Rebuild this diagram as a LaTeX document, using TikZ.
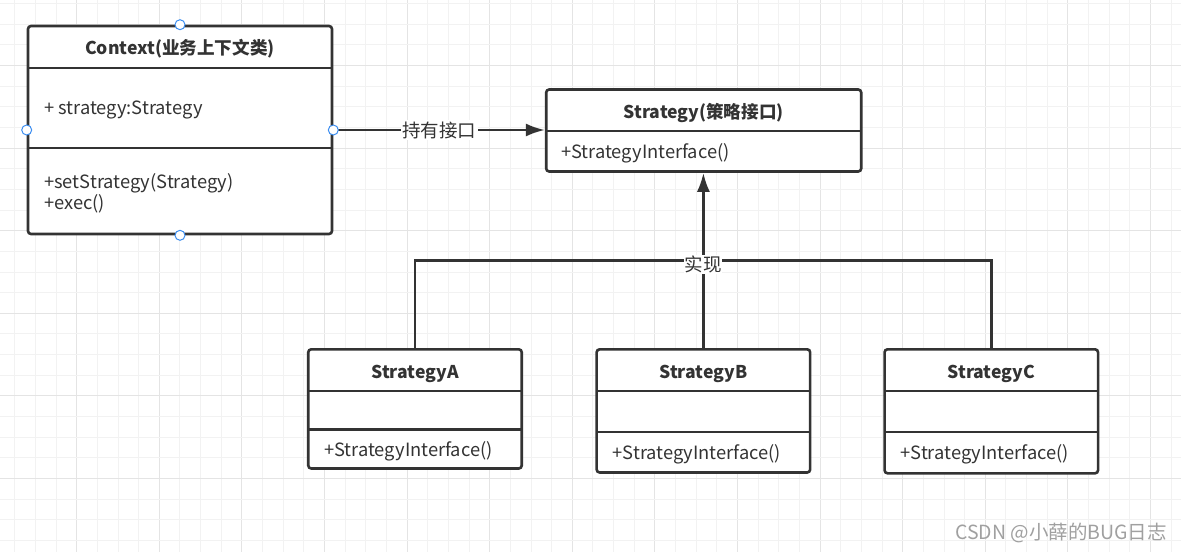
\documentclass[tikz,border=0pt]{standalone}
\usepackage{fontspec}
\setmainfont{Noto Sans CJK SC}
\usepackage{xcolor}
\usetikzlibrary{arrows.meta}
\definecolor{linegray}{HTML}{333333}
\definecolor{textgray}{HTML}{333333}
\definecolor{handleblue}{HTML}{3D8EF0}
\definecolor{gridminor}{HTML}{F2F2F2}
\definecolor{gridmajor}{HTML}{E4E4E4}
\definecolor{markgray}{HTML}{A0A0A0}
\tikzset{umlbox/.style={draw=linegray,line width=2.6pt,rounded corners=3pt,fill=white,inner sep=0pt},
         title/.style={font=\fontsize{17.6}{21}\selectfont\bfseries,text=textgray,inner sep=0pt},
         member/.style={font=\fontsize{18.3}{21}\selectfont,text=textgray,anchor=west,align=left,inner sep=0pt},
         divider/.style={draw=linegray,line width=2.6pt},
         conn/.style={draw=linegray,line width=2.6pt},
         solidhead/.style={-{Latex[length=19pt,width=13pt]}},
         lbl/.style={fill=white,text=textgray,font=\fontsize{18.5}{21}\selectfont,inner sep=1.5pt},
         handle/.style={circle,draw=handleblue,fill=white,line width=1pt,minimum size=10pt,inner sep=0pt},
         }

\begin{document}
\begin{tikzpicture}[x=1pt,y=-1pt]
\useasboundingbox (0,0) rectangle (1181,552);
\fill[white] (0,0) rectangle (1181,552);
% grid
\foreach \i in {0,...,56}
  \pgfmathparse{mod(\i,4)==3 ? "gridmajor" : "gridminor"}
  \draw[\pgfmathresult,line width=1pt] ({14.75+\i*20.65},0) -- ++(0,552);
\foreach \i in {0,...,26}
  \pgfmathparse{mod(\i,4)==3 ? "gridmajor" : "gridminor"}
  \draw[\pgfmathresult,line width=1pt] (0,{3.55+\i*20.65}) -- ++(1181,0);

% context class
\node[umlbox,minimum width=304pt,minimum height=208pt] (ctx) at (180,130) {};
\draw[divider] (28,68) -- (332,68);
\draw[divider] (28,148) -- (332,148);
\node[title] (ctxname) at (180,48.5) {Context(业务上下文类)};
\node[member] (ctxattr) at (44,110) {+ strategy:Strategy};
\node[member] (ctxops) at (44,193) {+setStrategy(Strategy)\\+exec()};

% strategy interface
\node[umlbox,minimum width=315pt,minimum height=82pt] (strat) at (703.7,130.5) {};
\draw[divider] (546,131) -- (861.5,131);
\node[title] (stratname) at (703.7,112.5) {Strategy(策略接口)};
\node[member] (stratop) at (561,153.5) {+StrategyInterface()};

% concrete strategies
\foreach \n/\cx/\bot/\dv in {A/415/468.5/429.5,B/703.4/472.5/432,C/991.3/473.3/432}{
  \node[umlbox,minimum width=213.5pt,minimum height={\bot-349.3}] (s\n) at (\cx,{(349.3+\bot)/2}) {};
  \draw[divider] ({\cx-106.75},391) -- ({\cx+106.75},391);
  \draw[divider] ({\cx-106.75},\dv) -- ({\cx+106.75},\dv);
  \node[title] (s\n name) at (\cx,373.5) {Strategy\n};
  \node[member] (s\n op) at ({\cx-91},{(\dv+\bot)/2+2}) {+StrategyInterface()};
}

% connectors
\draw[conn,solidhead] (ctx.east) -- node[lbl] (hold) {持有接口} (ctx.east -| strat.west);
\coordinate (bus) at (703.4,260.5);
\draw[conn] (sA.north) |- (bus) -| (sC.north);
\draw[conn] (sB.north) -- (bus);
\draw[conn,solidhead] (bus) -- (bus |- strat.south);
\node[lbl,inner sep=0.5pt] (impl) at ([yshift=-4pt]bus) {实现};

% handles
\foreach \a in {north,south,east,west}
  \node[handle] (h\a) at (ctx.\a) {};

\node[text=markgray,font=\fontsize{19.5}{22}\selectfont,inner sep=0pt] (mark) at (1061,533) {CSDN @小薛的BUG日志};
\end{tikzpicture}
\end{document}
